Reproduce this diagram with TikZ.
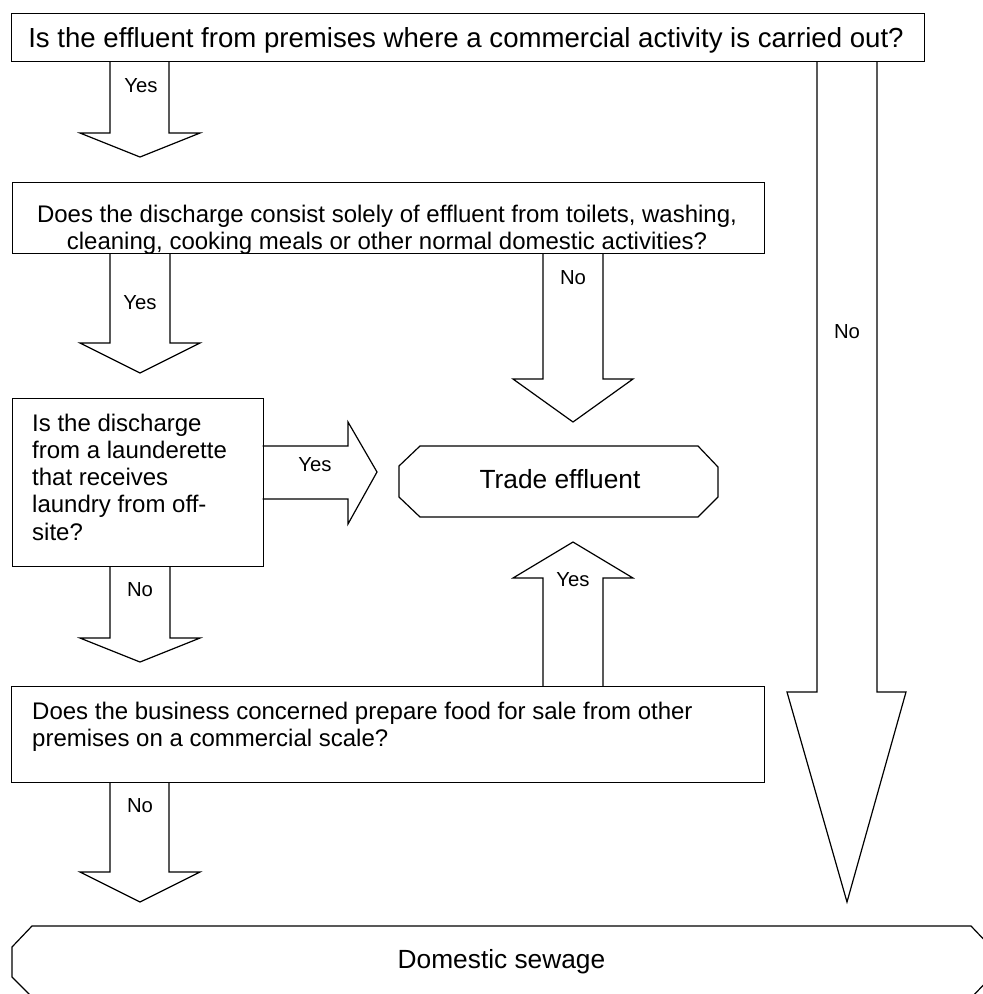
\documentclass[tikz,border=0pt]{standalone}
\usepackage{fontspec}
\setmainfont{Liberation Sans}
\begin{document}
\begin{tikzpicture}[x=1pt,y=-1pt,
  outl/.style={draw, line width=1.2pt, line join=miter},
  boxn/.style={outl, rectangle, inner sep=0pt, anchor=north west},
  body/.style={inner sep=0pt, anchor=base, font=\fontsize{24}{27.6}\selectfont},
  bodyl/.style={body, anchor=base west},
  topt/.style={inner sep=0pt, anchor=base, font=\fontsize{27.6}{31}\selectfont},
  lbl/.style={inner sep=0pt, anchor=base, font=\fontsize{20.3}{24}\selectfont},
  term/.style={inner sep=0pt, anchor=base, font=\fontsize{26.3}{30}\selectfont}]
\useasboundingbox (0,0) rectangle (983,994);
\clip (0,0) rectangle (983,994);

% boxes
\node[boxn, minimum width=913pt, minimum height=48pt] (q1) at (11,13) {};
\node[boxn, minimum width=752pt, minimum height=71pt] (q2) at (12,182) {};
\node[boxn, minimum width=250.7pt, minimum height=168pt] (q3) at (12,398) {};
\node[boxn, minimum width=753pt, minimum height=96pt] (q4) at (11,686) {};

% terminals
\draw[outl] (420,446) -- (698,446) -- (718,467) -- (718,497) -- (698,517)
  -- (420,517) -- (399,497) -- (399,466) -- cycle;
\draw[outl] (32,926) -- (971,926) -- (991,947) -- (991,977) -- (971,998)
  -- (33,998) -- (12,977) -- (12,947) -- cycle;

% block arrows
\draw[outl] (110,61) -- (110,133) -- (80,133) -- (140,157) -- (200,133) -- (169,133) -- (169,61);
\draw[outl] (110,253) -- (110,343) -- (80,343) -- (140,373) -- (200,343) -- (170,343) -- (170,253);
\draw[outl] (543,253) -- (543,379) -- (513,379) -- (573,422) -- (633,379) -- (603,379) -- (603,253);
\draw[outl] (817,61) -- (817,692) -- (787,692) -- (847,902) -- (906,692) -- (877,692) -- (877,61);
\draw[outl] (262.7,446) -- (348,446) -- (348,422) -- (377,472) -- (348,524) -- (348,499) -- (262.7,499);
\draw[outl] (110,566) -- (110,638) -- (80,638) -- (140,662) -- (200,638) -- (170,638) -- (170,566);
\draw[outl] (543,686) -- (543,578) -- (513,578) -- (573,542) -- (633,578) -- (603,578) -- (603,686);
\draw[outl] (110,782) -- (110,872) -- (80,872) -- (140,902) -- (200,872) -- (169,872) -- (169,782);

% texts
\node[topt] (q1t) at (466,47) {Is the effluent from premises where a commercial activity is carried out?};
\begin{scope}
\clip (12,182) rectangle (764,253);
\node[body] (q2a) at (387,222) {Does the discharge consist solely of effluent from toilets, washing,};
\node[body] (q2b) at (387,249.8) {cleaning, cooking meals or other normal domestic activities?};
\end{scope}
\node[bodyl] (q3a) at (32,431) {Is the discharge};
\node[bodyl] (q3b) at (32,458.3) {from a launderette};
\node[bodyl] (q3c) at (32,485.6) {that receives};
\node[bodyl] (q3d) at (32,512.9) {laundry from off-};
\node[bodyl] (q3e) at (32,540.2) {site?};
\node[bodyl] (q4a) at (32,719.3) {Does the business concerned prepare food for sale from other};
\node[bodyl] (q4b) at (32,746.7) {premises on a commercial scale?};
\node[term] (te) at (560,488) {Trade effluent};
\node[term] (ds) at (501.5,968) {Domestic sewage};

% labels
\node[lbl] (l1) at (141,92.7) {Yes};
\node[lbl] (l2) at (140,309.3) {Yes};
\node[lbl] (l3) at (573,284) {No};
\node[lbl] (l4) at (847,338.3) {No};
\node[lbl] (l5) at (315,471.7) {Yes};
\node[lbl] (l6) at (140,596.7) {No};
\node[lbl] (l7) at (573,586.7) {Yes};
\node[lbl] (l8) at (140,812) {No};
\end{tikzpicture}
\end{document}
